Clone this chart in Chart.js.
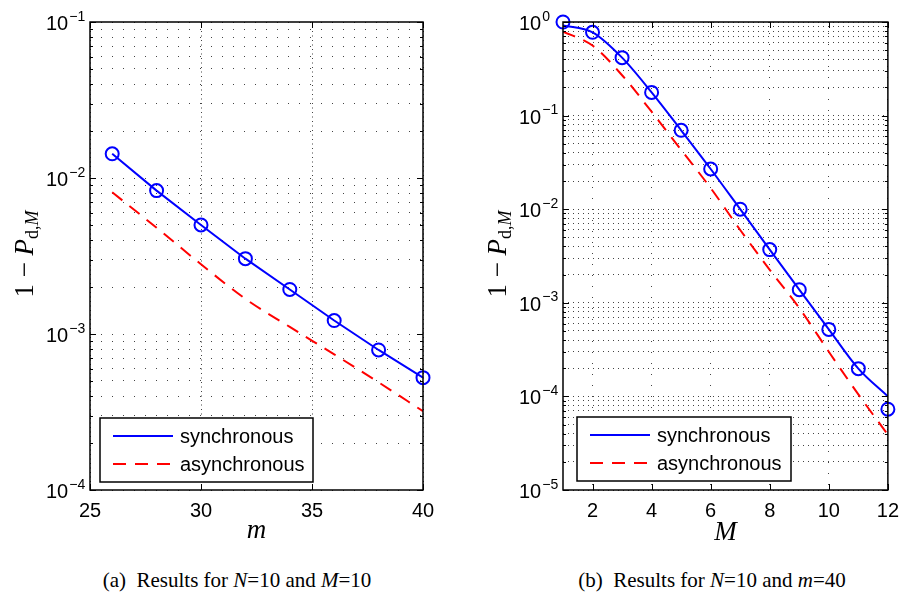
<!DOCTYPE html>
<html>
<head>
<meta charset="utf-8">
<script src="https://cdn.jsdelivr.net/npm/chart.js@4.4.1/dist/chart.umd.min.js"></script>
<style>
    body { margin: 0; background: #fff; width: 908px; height: 597px; position: relative; overflow: hidden; }
    .panel { position: absolute; top: 0; width: 454px; height: 550px; }
    .cap { position: absolute; top: 568px; font: 21px "Liberation Serif", "Times New Roman", serif; white-space: nowrap; transform: translateX(-50%); }
</style>
</head>
<body>
<div class="panel" style="left:0"><canvas id="chartA"></canvas></div>
<div class="panel" style="left:454px"><canvas id="chartB"></canvas></div>
<div class="cap" style="left:237px">(a)&nbsp; Results for <i>N</i>=10 and <i>M</i>=10</div>
<div class="cap" style="left:712px">(b)&nbsp; Results for <i>N</i>=10 and <i>m</i>=40</div>

<script>
// panel (a): 1 - P vs m
let mValues = [26, 28, 30, 32, 34, 36, 38, 40];
let syncA = [0.0143, 0.0083, 0.0050, 0.00304, 0.00193, 0.00122, 0.00079, 0.000525];
let asyncA = [0.0081, 0.0048, 0.0028, 0.00168, 0.00111, 0.00074, 0.00049, 0.00032];
let xTicksA = [25, 30, 35, 40];
let decadesA = [-4, -3, -2, -1];

// panel (b): 1 - P vs M
let MValues = [1, 2, 3, 4, 5, 6, 7, 8, 9, 10, 11, 12];
let syncSimB = [1.0, 0.776, 0.416, 0.177, 0.0697, 0.0269, 0.0100, 0.0037, 0.00138, 0.00052, 0.000198, 0.000073];
let syncLineB = [0.92, 0.776, 0.416, 0.177, 0.0697, 0.0269, 0.0100, 0.0037, 0.00138, 0.00052, 0.000198, 0.0001];
let asyncB = [0.79, 0.56, 0.27, 0.11, 0.043, 0.0168, 0.006, 0.00225, 0.00088, 0.0003, 0.000105, 0.000039];
let xTicksB = [2, 4, 6, 8, 10, 12];
let decadesB = [-5, -4, -3, -2, -1, 0];

let legendLabels = ["synchronous", "asynchronous"];

const BLUE = "#0000ff";
const RED = "#ff0000";
const SANS = '"Liberation Sans", Arial, sans-serif';
const SERIF = '"Liberation Serif", "Times New Roman", serif';

function points(xs, ys) {
    return xs.map((x, i) => ({ x: x, y: ys[i] }));
}

// grid positions 1..9 x 10^k between the decades
function logTicks(decades) {
    let t = [];
    for (let i = 0; i < decades.length - 1; i++) {
        for (let k = 1; k <= 9; k++) t.push(k * Math.pow(10, decades[i]));
    }
    t.push(Math.pow(10, decades[decades.length - 1]));
    return t;
}

function drawPow(ctx, x, y, exp) {
    ctx.fillStyle = "#000";
    ctx.textAlign = "left";
    ctx.textBaseline = "alphabetic";
    ctx.font = "20px " + SANS;
    ctx.fillText("10", x, y + 8);
    let w = ctx.measureText("10").width;
    ctx.font = "14px " + SANS;
    ctx.fillText(exp === 0 ? "0" : "\u2212" + Math.abs(exp), x + w + 1, y - 1.5);
}

function drawPieces(ctx, pieces, x, y) {
    pieces.forEach(p => {
        ctx.font = p.font;
        ctx.fillText(p.text, x, y + (p.dy || 0));
        x += ctx.measureText(p.text).width;
    });
}

function piecesWidth(ctx, pieces) {
    let w = 0;
    pieces.forEach(p => { ctx.font = p.font; w += ctx.measureText(p.text).width; });
    return w;
}

const decorPlugin = {
    id: "decor",
    afterDraw(chart, args, o) {
        let ctx = chart.ctx;
        let a = chart.chartArea;
        let xs = chart.scales.x, ys = chart.scales.y;
        ctx.save();

        // tick marks inside the box
        ctx.strokeStyle = "#000";
        ctx.lineWidth = 1;
        ctx.beginPath();
        ys.ticks.forEach(t => {
            let py = Math.round(ys.getPixelForValue(t.value)) + 0.5;
            let len = o.decades.some(d => Math.abs(Math.log10(t.value) - d) < 1e-6) ? 6 : 3;
            ctx.moveTo(a.left, py); ctx.lineTo(a.left + len, py);
            ctx.moveTo(a.right, py); ctx.lineTo(a.right - len, py);
        });
        xs.ticks.forEach(t => {
            let px = Math.round(xs.getPixelForValue(t.value)) + 0.5;
            ctx.moveTo(px, a.bottom); ctx.lineTo(px, a.bottom - 6);
            ctx.moveTo(px, a.top); ctx.lineTo(px, a.top + 6);
        });
        ctx.stroke();

        // box
        ctx.lineWidth = 1.5;
        ctx.strokeRect(a.left, a.top, a.right - a.left, a.bottom - a.top);

        // y tick labels 10^k
        o.decades.forEach(d => {
            let py = ys.getPixelForValue(Math.pow(10, d));
            drawPow(ctx, a.left - 44, py, d);
        });

        // axis titles
        ctx.fillStyle = "#000";
        ctx.textAlign = "left";
        ctx.textBaseline = "alphabetic";
        ctx.font = "italic 27px " + SERIF;
        let tw = ctx.measureText(o.xTitle).width;
        ctx.fillText(o.xTitle, (a.left + a.right) / 2 - tw / 2, o.xTitleY);

        let yPieces = [
            { text: "1 \u2212 ", font: "27px " + SERIF },
            { text: "P", font: "italic 27px " + SERIF },
            { text: "d,", font: "18px " + SERIF, dy: 5 },
            { text: "M", font: "italic 18px " + SERIF, dy: 5 }
        ];
        ctx.save();
        ctx.translate(a.left - 57, (a.top + a.bottom) / 2 - 2);
        ctx.rotate(-Math.PI / 2);
        drawPieces(ctx, yPieces, -piecesWidth(ctx, yPieces) / 2, 0);
        ctx.restore();

        // legend box
        let L = o.legend;
        let bx = a.left + L.dx, by = a.bottom - L.dy - L.h;
        ctx.fillStyle = "#fff";
        ctx.fillRect(bx, by, L.w, L.h);
        ctx.lineWidth = 1.5;
        ctx.strokeStyle = "#000";
        ctx.strokeRect(bx, by, L.w, L.h);
        let row = 0;
        chart.data.datasets.forEach(ds => {
            if (!legendLabels.includes(ds.label)) return;
            let ry = by + 18 + row * 28;
            ctx.beginPath();
            ctx.strokeStyle = ds.borderColor;
            ctx.lineWidth = ds.borderWidth;
            ctx.setLineDash(ds.borderDash || []);
            ctx.moveTo(bx + 13, ry);
            ctx.lineTo(bx + 73, ry);
            ctx.stroke();
            ctx.setLineDash([]);
            ctx.fillStyle = "#000";
            ctx.font = "20px " + SANS;
            ctx.textBaseline = "middle";
            ctx.fillText(ds.label, bx + 80, ry + 1);
            row++;
        });
        ctx.restore();
    }
};

function makeChart(id, datasets, cfg) {
    return new Chart(document.getElementById(id), {
        type: "line",
        data: { datasets: datasets },
        options: {
            responsive: true,
            maintainAspectRatio: false,
            animation: false,
            devicePixelRatio: 1,
            layout: { padding: { top: 22, right: cfg.padRight, left: 0, bottom: 0 } },
            scales: {
                x: {
                    type: "linear",
                    min: cfg.xMin,
                    max: cfg.xMax,
                    afterBuildTicks: s => { s.ticks = cfg.xTicks.map(v => ({ value: v })); },
                    afterFit: s => { s.height = 60; },
                    ticks: { color: "#000", font: { family: SANS, size: 20 }, padding: 9, maxRotation: 0, autoSkip: false },
                    grid: { color: "#444", lineWidth: 1, drawTicks: false },
                    border: { display: false, dash: cfg.xDash }
                },
                y: {
                    type: "logarithmic",
                    min: Math.pow(10, cfg.decades[0]),
                    max: Math.pow(10, cfg.decades[cfg.decades.length - 1]),
                    afterBuildTicks: s => { s.ticks = logTicks(cfg.decades).map(v => ({ value: v })); },
                    afterFit: s => { s.width = cfg.yWidth; },
                    ticks: { display: false },
                    grid: { color: "#444", lineWidth: 1, drawTicks: false },
                    border: { display: false, dash: cfg.yDash }
                }
            },
            plugins: {
                legend: { display: false },
                tooltip: { enabled: false },
                decor: { decades: cfg.decades, xTitle: cfg.xTitle, xTitleY: cfg.xTitleY, legend: cfg.legend }
            }
        },
        plugins: [decorPlugin]
    });
}

makeChart("chartA", [
    {
        label: "synchronous",
        data: points(mValues, syncA),
        borderColor: BLUE,
        borderWidth: 2,
        pointRadius: 6.5,
        pointBorderWidth: 2,
        pointBorderColor: BLUE,
        pointBackgroundColor: "rgba(0,0,0,0)",
        clip: false
    },
    {
        label: "asynchronous",
        data: points(mValues, asyncA),
        borderColor: RED,
        borderWidth: 2,
        borderDash: [13, 9],
        pointRadius: 0,
        cubicInterpolationMode: "monotone"
    }
], {
    xMin: 25, xMax: 40, xTicks: xTicksA, decades: decadesA,
    padRight: 31, yWidth: 90, xTitle: "m", xTitleY: 538,
    xDash: [1, 3.5], yDash: [1, 10],
    legend: { dx: 10, dy: 8, w: 213, h: 64 }
});

makeChart("chartB", [
    {
        label: "synchronous",
        data: points(MValues, syncLineB),
        borderColor: BLUE,
        borderWidth: 2,
        pointRadius: 0,
        cubicInterpolationMode: "monotone"
    },
    {
        label: "asynchronous",
        data: points(MValues, asyncB),
        borderColor: RED,
        borderWidth: 2,
        borderDash: [13, 9],
        pointRadius: 0,
        cubicInterpolationMode: "monotone"
    },
    {
        label: "synchronous (sim)",
        data: points(MValues, syncSimB),
        showLine: false,
        borderColor: BLUE,
        pointRadius: 6.5,
        pointBorderWidth: 2,
        pointBorderColor: BLUE,
        pointBackgroundColor: "rgba(0,0,0,0)",
        clip: false
    }
], {
    xMin: 1, xMax: 12, xTicks: xTicksB, decades: decadesB,
    padRight: 12, yWidth: 109, xTitle: "M", xTitleY: 540,
    xDash: [1, 10], yDash: [1, 4],
    legend: { dx: 14, dy: 9, w: 214, h: 64 }
});
</script>
</body>
</html>
